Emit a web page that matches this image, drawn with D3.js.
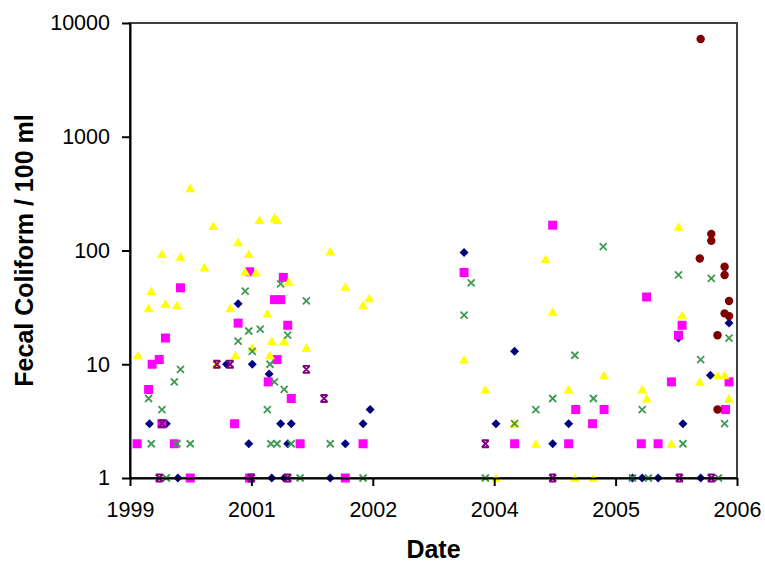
<!DOCTYPE html>
<html>
<head>
<meta charset="utf-8">
<script src="https://cdn.jsdelivr.net/npm/d3@7"></script>
<style>
  body { margin: 0; background: #fff; }
  text { font-family: "Liberation Sans", Arial, sans-serif; }
</style>
</head>
<body>
<div id="chart"></div>
<script>
// Sample values: [date as decimal year, fecal coliform / 100 ml]
var diamondSeries = [
  [2000.49, 1], [2001.28, 1], [2001.55, 1], [2001.69, 1], [2002.21, 1], [2005.62, 1],
  [2005.73, 1], [2005.91, 1], [2006.39, 1],
  [2001.29, 2], [2001.73, 2], [2002.38, 2], [2004.72, 2],
  [2000.17, 3], [2000.36, 3], [2001.65, 3], [2001.77, 3], [2002.58, 3], [2004.08, 3],
  [2004.90, 3], [2006.19, 3],
  [2002.66, 4], [2001.52, 8.2], [2006.50, 8], [2001.04, 10], [2001.33, 10],
  [2004.29, 13], [2006.14, 17], [2006.71, 23], [2001.17, 34], [2003.72, 96]
];

var squareSeries = [
  [2000.63, 1], [2001.30, 1], [2002.38, 1],
  [2000.03, 2], [2000.45, 2], [2001.87, 2], [2002.58, 2], [2004.29, 2], [2004.90, 2],
  [2005.72, 2], [2005.91, 2],
  [2000.31, 3], [2001.13, 3], [2005.17, 3],
  [2004.98, 4], [2005.30, 4], [2006.67, 4],
  [2001.77, 5], [2000.16, 6], [2001.51, 7], [2006.06, 7], [2006.71, 7],
  [2000.20, 10], [2000.28, 11], [2001.61, 11], [2000.35, 17], [2006.14, 18],
  [2001.73, 22], [2006.18, 22], [2001.17, 23], [2001.58, 37], [2001.65, 37],
  [2005.78, 39], [2000.52, 47], [2001.68, 58], [2003.72, 64], [2001.30, 65], [2004.72, 167]
];

var triangleSeries = [
  [2004.08, 1], [2004.97, 1], [2005.18, 1],
  [2004.53, 2], [2006.06, 2], [2004.29, 3], [2005.78, 5], [2006.71, 5],
  [2003.96, 6], [2004.90, 6], [2005.73, 6], [2006.38, 7],
  [2005.30, 8], [2006.58, 8], [2006.66, 8], [2000.93, 10], [2003.72, 11],
  [2000.04, 12], [2001.14, 12], [2001.53, 12], [2001.33, 14], [2001.94, 14],
  [2001.55, 16], [2001.69, 16], [2006.18, 27], [2001.50, 28], [2004.72, 29],
  [2000.16, 31], [2001.08, 31], [2000.48, 33], [2002.58, 33], [2000.35, 34],
  [2002.65, 38], [2000.19, 44], [2002.38, 48], [2001.74, 53], [2001.25, 65],
  [2001.37, 64], [2000.79, 71], [2004.64, 84], [2000.52, 88], [2000.31, 93],
  [2001.29, 93], [2002.21, 98], [2001.17, 118], [2006.14, 162], [2000.89, 164],
  [2001.41, 185], [2001.61, 185], [2001.58, 194], [2000.63, 352]
];

var crossSeries = [
  [2000.36, 1], [2001.87, 1], [2002.58, 1], [2003.96, 1], [2005.62, 1], [2005.80, 1],
  [2006.59, 1],
  [2000.19, 2], [2000.48, 2], [2000.63, 2], [2001.54, 2], [2001.61, 2], [2001.77, 2],
  [2002.21, 2], [2006.19, 2],
  [2004.29, 3], [2006.66, 3],
  [2000.31, 4], [2001.50, 4], [2004.53, 4], [2005.73, 4],
  [2000.16, 5], [2004.72, 5], [2005.18, 5], [2001.69, 6], [2000.45, 7], [2001.58, 7],
  [2000.52, 9], [2001.53, 10], [2006.39, 11], [2004.97, 12], [2001.33, 13],
  [2001.17, 16], [2006.71, 17], [2001.73, 18], [2001.29, 19.6], [2001.42, 20.4],
  [2003.72, 27], [2001.94, 36], [2001.25, 44], [2001.65, 51], [2003.80, 52],
  [2006.51, 57], [2006.14, 61], [2005.29, 108]
];

var starSeries = [
  [2000.28, 1], [2001.32, 1], [2001.73, 1], [2004.72, 1], [2006.15, 1], [2006.51, 1],
  [2003.96, 2], [2000.31, 3], [2002.14, 5], [2001.94, 9], [2000.93, 10], [2001.08, 10]
];

var circleSeries = [
  [2006.58, 4], [2006.58, 18], [2006.71, 26.5], [2006.66, 28], [2006.71, 36],
  [2006.66, 61], [2006.66, 72], [2006.38, 85], [2006.51, 122], [2006.51, 140],
  [2006.39, 7230]
];

// Axis ticks
var xTickValues = [1999.95, 2001.32, 2002.69, 2004.06, 2005.43, 2006.80];
var xTickLabels = ["1999", "2001", "2002", "2004", "2005", "2006"];
var yTickValues = [1, 10, 100, 1000, 10000];

// Set the dimensions and margins of the graph
var margin = { top: 23, right: 28, bottom: 85, left: 130 },
  width = 765 - margin.left - margin.right,
  height = 563 - margin.top - margin.bottom;

var svg = d3.select("#chart")
  .append("svg")
  .attr("width", width + margin.left + margin.right)
  .attr("height", height + margin.top + margin.bottom)
  .append("g")
  .attr("transform", "translate(" + margin.left + "," + margin.top + ")");

var x = d3.scaleLinear()
  .domain([xTickValues[0], xTickValues[xTickValues.length - 1]])
  .range([0, width]);

var y = d3.scaleLog()
  .domain([1, 10000])
  .range([height, 0]);

// Plot area border (top and right edges show)
svg.append("rect")
  .attr("width", width)
  .attr("height", height)
  .attr("fill", "none")
  .attr("stroke", "#404040")
  .attr("stroke-width", 2);

// Markers
var markers = [
  { data: diamondSeries, color: "#000080", shape: "diamond" },
  { data: squareSeries, color: "#ff00ff", shape: "square" },
  { data: triangleSeries, color: "#ffff00", shape: "triangle" },
  { data: crossSeries, color: "#3f9a52", shape: "cross" },
  { data: starSeries, color: "#800080", shape: "star" },
  { data: circleSeries, color: "#800000", shape: "circle" }
];

var shapePaths = {
  diamond: "M0,-4.5L4.5,0L0,4.5L-4.5,0Z",
  square: "M-4.5,-4.5H4.5V4.5H-4.5Z",
  triangle: "M0,-4.5L5,4L-5,4Z",
  cross: "M-3.5,-3.5L3.5,3.5M-3.5,3.5L3.5,-3.5",
  star: "M-3.5,-3.5L3.5,3.5M-3.5,3.5L3.5,-3.5M-3.5,-3.5H3.5M-3.5,3.5H3.5",
  circle: d3.symbol(d3.symbolCircle, 56)()
};

markers.forEach(function (s) {
  var stroked = s.shape === "cross" || s.shape === "star";
  svg.append("g")
    .selectAll("path")
    .data(s.data)
    .enter()
    .append("path")
    .attr("transform", function (d) { return "translate(" + x(d[0]) + "," + y(d[1]) + ")"; })
    .attr("d", shapePaths[s.shape])
    .attr("fill", stroked ? "none" : s.color)
    .attr("stroke", stroked ? s.color : "none")
    .attr("stroke-width", stroked ? 1.8 : 0);
});

// Add Y axis
var yAxis = svg.append("g")
  .call(d3.axisLeft(y)
    .tickValues(yTickValues)
    .tickFormat(d3.format("d"))
    .tickSize(8)
    .tickSizeOuter(0)
    .tickPadding(12));

// Add X axis
var xAxis = svg.append("g")
  .attr("transform", "translate(0," + height + ")")
  .call(d3.axisBottom(x)
    .tickValues(xTickValues)
    .tickFormat(function (d, i) { return xTickLabels[i]; })
    .tickSize(8)
    .tickSizeOuter(0)
    .tickPadding(16));

[yAxis, xAxis].forEach(function (a) {
  a.select(".domain").attr("stroke", "#000").attr("stroke-width", 2);
  a.selectAll(".tick line").attr("stroke", "#000").attr("stroke-width", 2);
  a.selectAll(".tick text")
    .style("font-size", "21.5px")
    .style("font-family", "Liberation Sans, Arial, sans-serif")
    .attr("fill", "#000");
});

// Axis titles
svg.append("text")
  .attr("x", width / 2)
  .attr("y", height + 80)
  .attr("text-anchor", "middle")
  .style("font-size", "25px")
  .style("font-weight", "bold")
  .text("Date");

svg.append("text")
  .attr("transform", "translate(" + (33 - margin.left) + "," + (height / 2) + ") rotate(-90)")
  .attr("text-anchor", "middle")
  .style("font-size", "25px")
  .style("font-weight", "bold")
  .text("Fecal Coliform / 100 ml");
</script>
</body>
</html>
